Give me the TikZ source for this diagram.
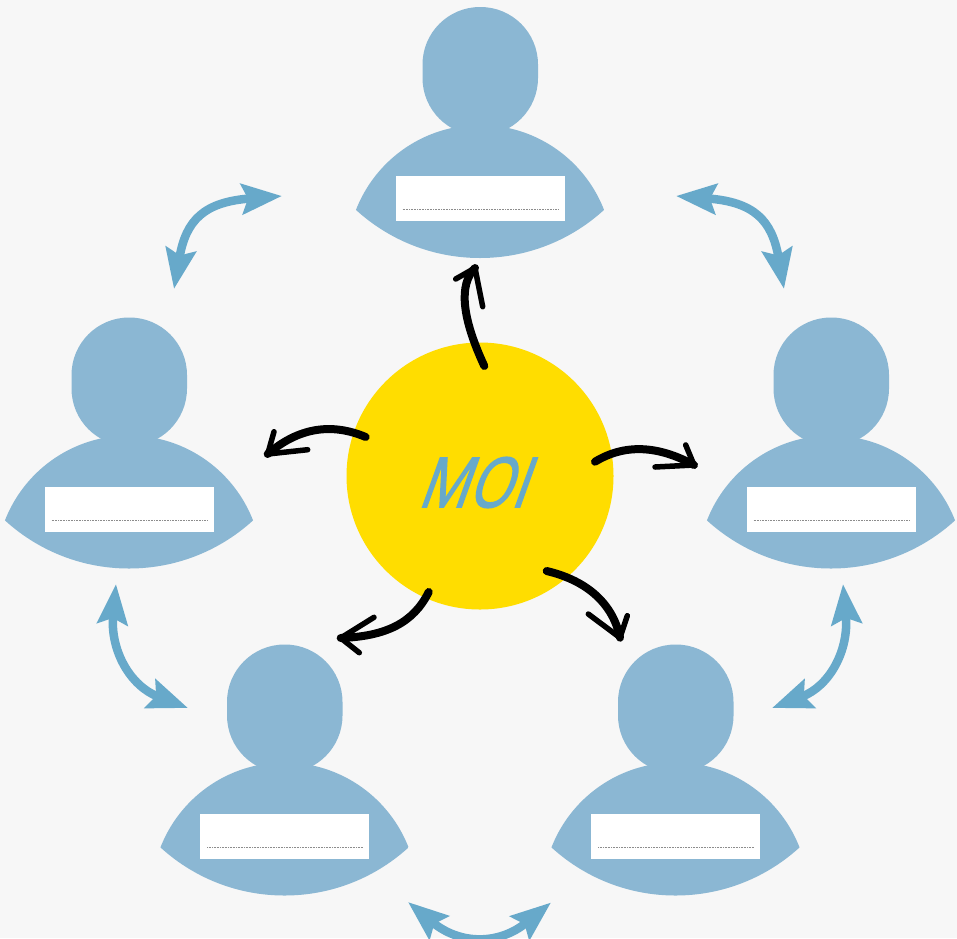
\documentclass[tikz,border=0pt]{standalone}
\usepackage{fontspec}
\usetikzlibrary{arrows.meta}
\newfontfamily\moifont[FakeBold=2.2]{Open Sans}
\definecolor{bgc}{HTML}{F7F7F7}
\definecolor{personc}{HTML}{8BB7D3}
\definecolor{yellowc}{HTML}{FFDD00}
\definecolor{bluec}{HTML}{67A9CA}
\tikzset{
  namebox/.style={fill=white,inner sep=0pt,minimum width=169pt,minimum height=45pt},
  nameline/.style={draw=black!45,line width=0.6pt,densely dotted},
  twoway/.style={draw=bluec,line width=8.5pt,{Stealth[length=40pt,width=30pt,inset=6pt,color=bluec]}-{Stealth[length=40pt,width=30pt,inset=6pt,color=bluec]}},
  oneway/.style={draw=black,line width=8pt,line cap=round},
  openhead/.style={draw=black,line width=5.5pt,line cap=round,line join=round},
}
\newcommand{\personfig}[3]{%
  \begin{scope}[shift={(#2,#3)}]
    \fill[personc,rounded corners=57.5pt] (422.5,7) rectangle (538,135.5);
    \begin{scope}
      \clip (480,74) circle (184);
      \fill[personc] (480,258) circle (133);
    \end{scope}
    \node[namebox] (#1) at (480.3,198.5) {};
    \draw[nameline] ([xshift=7pt,yshift=11.5pt]#1.south west) -- ([xshift=-7pt,yshift=11.5pt]#1.south east);
  \end{scope}}
\newcommand{\onearrow}[6]{%
  \draw[oneway] (#1) .. controls (#2) and (#3) .. (#4);
  \draw[openhead] (#5) -- (#4) -- (#6);}
\begin{document}
\begin{tikzpicture}[x=1pt,y=-1pt]
\useasboundingbox (0,0) rectangle (957,938);
\clip (0,0) rectangle (957,938);
\fill[bgc] (0,0) rectangle (957,938);
\personfig{ptop}{0}{0}
\personfig{pleft}{-351}{310.5}
\personfig{pright}{351}{310.5}
\personfig{plowleft}{-195.5}{637.5}
\personfig{plowright}{195.5}{637.5}
\node[circle,fill=yellowc,inner sep=0pt,minimum size=267pt] (moi) at (480,476) {};
\node[transform shape,xslant=0.36,xscale=0.8,text=bluec,inner sep=0pt] (moilabel) at (480,482.5)
  {\moifont\fontsize{69pt}{69pt}\selectfont MOI};
% blue two-way arrows
\coordinate (a1) at (282,196); \coordinate (a2) at (174,289);
\draw[twoway] (a1) .. controls (204,202) and (186,220) .. (a2);
\coordinate (b1) at (676,196); \coordinate (b2) at (784,289);
\draw[twoway] (b1) .. controls (754,202) and (772,220) .. (b2);
\coordinate (c1) at (116,584); \coordinate (c2) at (188,708);
\draw[twoway] (c1) .. controls (110,650) and (130,686) .. (c2);
\coordinate (d1) at (843,584); \coordinate (d2) at (772,708);
\draw[twoway] (d1) .. controls (849,650) and (830,686) .. (d2);
\coordinate (e1) at (408,902); \coordinate (e2) at (551,902.5);
\draw[twoway] (e1) .. controls (460,945) and (499,945) .. (e2);
% black arrows out of the circle
\coordinate (s1) at (484.3,366); \coordinate (p1) at (461.7,317.3); \coordinate (q1) at (458.6,284.7); \coordinate (t1) at (475,268);
\coordinate (l1) at (455.7,279); \coordinate (r1) at (482.7,306.7);
\onearrow{s1}{p1}{q1}{t1}{l1}{r1}
\coordinate (s2) at (365.7,437); \coordinate (p2) at (330.8,422.3); \coordinate (q2) at (298.1,428); \coordinate (t2) at (267.7,454);
\coordinate (l2) at (274,431.7); \coordinate (r2) at (307.7,449.7);
\onearrow{s2}{p2}{q2}{t2}{l2}{r2}
\coordinate (s3) at (595,461.7); \coordinate (p3) at (624.3,443.9); \coordinate (q3) at (657.3,445); \coordinate (t3) at (694,465);
\coordinate (l3) at (685.7,445); \coordinate (r3) at (655,467);
\onearrow{s3}{p3}{q3}{t3}{l3}{r3}
\coordinate (s4) at (428.7,592); \coordinate (p4) at (413.4,622.9); \coordinate (q4) at (386,636.3); \coordinate (t4) at (340.7,638);
\coordinate (l4) at (374,617.3); \coordinate (r4) at (359.3,652.7);
\onearrow{s4}{p4}{q4}{t4}{l4}{r4}
\coordinate (s5) at (546.7,571); \coordinate (p5) at (588.9,581); \coordinate (q5) at (613.3,605.2); \coordinate (t5) at (620,637.7);
\coordinate (l5) at (627.3,615.7); \coordinate (r5) at (588.3,614);
\onearrow{s5}{p5}{q5}{t5}{l5}{r5}
\end{tikzpicture}
\end{document}
